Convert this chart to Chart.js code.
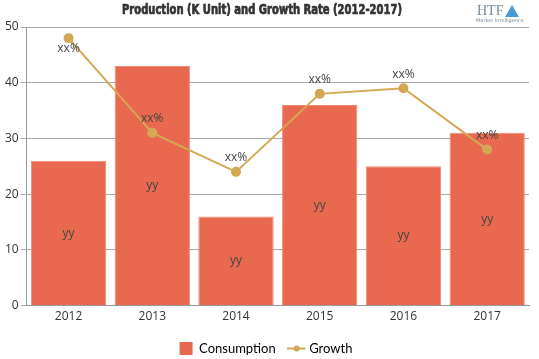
<!DOCTYPE html>
<html><head><meta charset="utf-8">
<script src="https://cdn.jsdelivr.net/npm/chart.js@4/dist/chart.umd.min.js"></script>
<style>html,body{margin:0;padding:0;background:#fff}#wrap{width:539px;height:359px;position:relative}</style>
</head><body><div id="wrap"><canvas id="c" width="539" height="359"></canvas></div>
<script>
const categories = ['2012','2013','2014','2015','2016','2017'];
const consumption = [26, 43, 16, 36, 25, 31];
const growth = [48, 31, 24, 38, 39, 28];
const barLabels = ['yy','yy','yy','yy','yy','yy'];
const lineLabels = ['xx%','xx%','xx%','xx%','xx%','xx%'];
const titleText = 'Production (K Unit) and Growth Rate (2012-2017)';
const barColor = '#E8694F';
const lineColor = '#D4A853';

const labelPlugin = {
  id: 'labels',
  afterDatasetsDraw(chart) {
    const ctx = chart.ctx;
    ctx.save();
    ctx.font = '12px "Open Sans", sans-serif';
    ctx.fillStyle = '#444';
    ctx.textAlign = 'center';
    ctx.textBaseline = 'middle';
    const y = chart.scales.y;
    const bm = chart.getDatasetMeta(0);
    bm.data.forEach((b, i) => {
      ctx.fillText(barLabels[i], b.x, y.getPixelForValue(consumption[i] / 2));
    });
    const lm = chart.getDatasetMeta(1);
    lm.data.forEach((p, i) => {
      let ty = p.y - 14;
      if (ty < chart.chartArea.top + 6) ty = p.y + 10;
      ctx.fillText(lineLabels[i], p.x, ty);
    });
    ctx.restore();
  },
  afterDraw(chart) {
    const ctx = chart.ctx;
    ctx.save();
    ctx.font = 'bold 14px "DejaVu Sans Condensed", "DejaVu Sans", sans-serif';
    ctx.fillStyle = '#333';
    ctx.strokeStyle = '#333';
    ctx.lineWidth = 0.7;
    ctx.textAlign = 'center';
    ctx.textBaseline = 'middle';
    const tw = ctx.measureText(titleText).width;
    const sx = 280 / tw;
    ctx.translate(262, 10);
    ctx.scale(sx, 1);
    ctx.fillText(titleText, 0, 0);
    ctx.strokeText(titleText, 0, 0);
    ctx.setTransform(1, 0, 0, 1, 0, 0);
    ctx.fillStyle = '#7a8a9a';
    ctx.font = '14px "Liberation Serif", serif';
    ctx.textAlign = 'left';
    ctx.fillText('HTF', 477, 11);
    ctx.fillStyle = '#4a9ad8';
    ctx.beginPath();
    ctx.moveTo(505, 17); ctx.lineTo(512, 5); ctx.lineTo(519, 17); ctx.closePath();
    ctx.fill();
    ctx.fillStyle = '#7a8a9a';
    ctx.font = '5px "DejaVu Sans", sans-serif';
    ctx.fillText('Market Intelligence', 476, 21);
    const lg = chart.legend;
    if (lg && lg.legendHitBoxes && lg.legendHitBoxes[1]) {
      const hb = lg.legendHitBoxes[1];
      const bw = lg.options.labels.boxWidth;
      ctx.fillStyle = lineColor;
      ctx.beginPath();
      ctx.arc(hb.left + bw / 2, hb.top + hb.height / 2, 3, 0, Math.PI * 2);
      ctx.fill();
    }
    ctx.restore();
  }
};

new Chart(document.getElementById('c'), {
  data: {
    labels: categories,
    datasets: [
      { type: 'bar', label: 'Consumption', data: consumption, backgroundColor: barColor, borderColor: '#EE8B77', borderWidth: 1, barPercentage: 0.9, categoryPercentage: 1.0, order: 2 },
      { type: 'line', label: 'Growth', data: growth, borderColor: lineColor, backgroundColor: lineColor, borderWidth: 2, pointRadius: 4, pointHoverRadius: 4, tension: 0, order: 1 }
    ]
  },
  options: {
    responsive: false,
    animation: false,
    devicePixelRatio: 1,
    layout: { padding: { top: 27, right: 10, left: 3, bottom: -6 } },
    plugins: {
      title: { display: false },
      tooltip: { enabled: false },
      legend: {
        position: 'bottom',
        labels: {
          font: { family: 'Lato, sans-serif', size: 13 },
          color: '#333',
          usePointStyle: true,
          boxWidth: 14, boxHeight: 14,
          padding: 14,
          generateLabels(chart) {
            return [
              { text: 'Consumption', fillStyle: barColor, strokeStyle: barColor, lineWidth: 0, pointStyle: 'rect', datasetIndex: 0 },
              { text: 'Growth', fillStyle: lineColor, strokeStyle: lineColor, lineWidth: 2, pointStyle: 'line', datasetIndex: 1 }
            ];
          }
        }
      }
    },
    scales: {
      x: {
        grid: { display: false, tickLength: 4 },
        border: { display: true, color: '#999' },
        ticks: { font: { family: '"Open Sans", sans-serif', size: 12 }, color: '#333', padding: 0 },
        afterFit(scale) { scale.height += 4; }
      },
      y: {
        min: 0, max: 50,
        ticks: { stepSize: 10, font: { family: '"Open Sans", sans-serif', size: 12 }, color: '#333', padding: 2 },
        grid: { color: '#aaa', tickLength: 6 },
        border: { display: true, color: '#999' }
      }
    }
  },
  plugins: [labelPlugin]
});
</script>
</body></html>
